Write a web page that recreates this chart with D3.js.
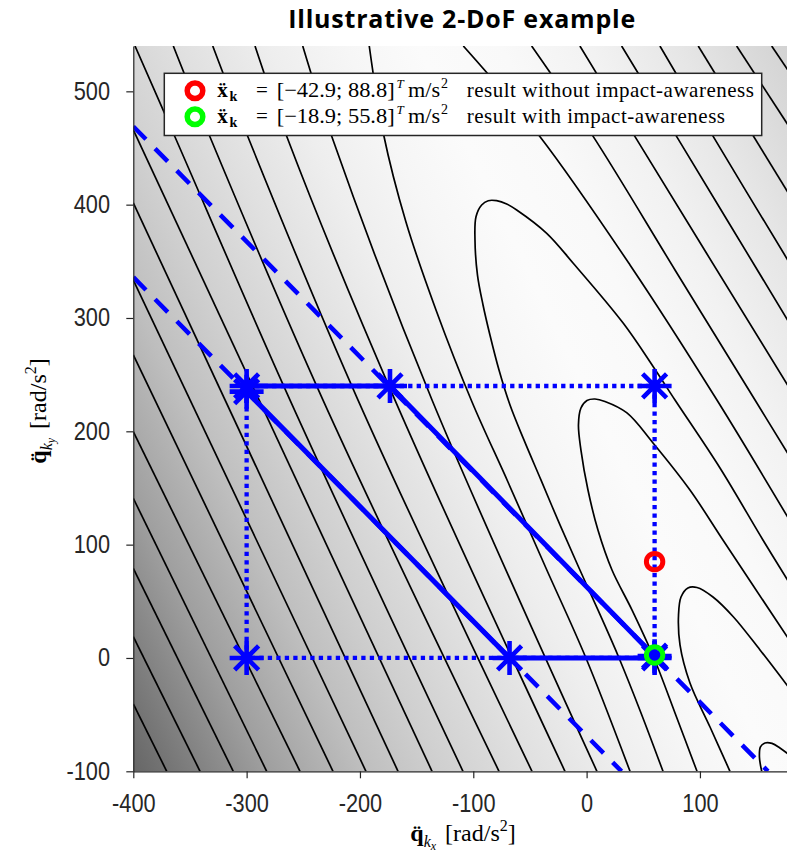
<!DOCTYPE html>
<html>
<head>
<meta charset="utf-8">
<script src="https://cdn.jsdelivr.net/npm/d3@7"></script>
<style>
  body { margin: 0; background: #fff; }
  svg { display: block; }
</style>
</head>
<body>
<div id="chart"></div>
<script>
// ticks
var xTicks = [-400, -300, -200, -100, 0, 100];
var yTicks = [-100, 0, 100, 200, 300, 400, 500];

// box constraint
var boxX = [-300, 60];
var boxY = [0, 240];

// the two parallel constraint lines (dashed)
var upperLine = [[-400, 469], [160, -100]];
var lowerLine = [[-400, 336], [30.8, -100]];

// feasible set (solid)
var feasible = [[-300, 240], [-173.5, 240], [60, 1.6], [60, 0], [-68, 0], [-300, 235], [-300, 240]];

// vertices drawn with '*'
var vertices = [[-300, 0], [-300, 235], [-300, 240], [-173.5, 240], [60, 240], [-68, 0], [60, 0], [60, 1.6]];

// results
var resultWithout = [60, 85];
var resultWith = [60, 2.6];

var legendColors = ["#ff0000", "#00ff00"];
var legendVectors = ["[\u221242.9; 88.8]", "[\u221218.9; 55.8]"];
var legendLabels = ["result without impact-awareness", "result with impact-awareness"];

// contour lines of the cost (left side, roughly straight)
var leftLines = [
  [[-400, -40.6], [-370.5, -100]],
  [[-400, 18.8], [-341.1, -100]],
  [[-400, 79.1], [-311.8, -100]],
  [[-400, 140.9], [-282.3, -100]],
  [[-400, 199.7], [-252.9, -100]],
  [[-400, 267.4], [-223.8, -100]],
  [[-400, 333.5], [-194.7, -100]],
  [[-400, 401.5], [-166.4, -100]],
  [[-400, 465.9], [-136.4, -100]],
  [[-398.5, 540], [-363.2, 459.7], [-261.7, 227.6], [-109.1, -100]],
  [[-364.7, 540], [-332.3, 459.7], [-232.6, 227.6], [-77.3, -100]],
  [[-329.9, 540], [-298.8, 459.7], [-201.7, 227.6], [-48.2, -100]],
  [[-292.6, 540], [-264.4, 459.7], [-169.1, 227.6], [-19.1, -100]],
  [[-250.5, 540], [-224.7, 459.7], [-136.4, 227.6], [9.1, -100]],
  [[-191.8, 540], [-179.4, 463], [-159.4, 384.7], [-132.9, 307.1], [-101.1, 225.9], [-69.4, 155.3], [-35.9, 79.4], [-0.6, 0], [38.3, -100]]
];

// U-shaped contours in the valley
var valleyLines = [
  [[67.4, -100], [48, -48.5], [28.6, 0], [10, 42.4], [-6.7, 79.4], [-23.5, 117.4], [-40.3, 157.1], [-55.3, 192.4],
   [-67.6, 223.2], [-77.3, 254.1], [-85.3, 285], [-91.4, 311.5], [-96.3, 337.9], [-98.5, 368.8], [-97.6, 389.4],
   [-92.6, 399.7], [-86.8, 403.5], [-79.4, 403.5], [-70.5, 400.6], [-61.7, 395.3], [-35.2, 374.7], [-11.8, 348.3],
   [32.4, 295.3], [58.8, 257], [78, 227.6], [117.7, 167.6], [155.6, 104.1], [180, 64.4]],
  [[97.4, -100], [78, -48.5], [59.4, 0], [40, 42.4], [22.4, 77.6], [10, 112.9], [1.2, 148.2], [-5, 183.5],
   [-7.2, 205.6], [-5, 220.6], [0.3, 227.2], [7.4, 228.5], [16.2, 226.3], [35.6, 216.2], [58.6, 189.7],
   [91.2, 148.2], [120.3, 104.1], [180, 14.1]],
  [[126.5, -100], [108.9, -60.9], [91.2, -22.1], [82.4, 11.5], [81.1, 37.9], [83.3, 53.8], [89.4, 61.8],
   [97.4, 62.2], [111.5, 53.8], [129.4, 36.4], [153, 7.1], [180, -28.2]],
  [[154.5, -100], [152.5, -87.4], [153.4, -78.5], [157.4, -75], [163.6, -75.4], [170.6, -79.4], [180, -86.5]]
];

// right-hand branches
var rightLines = [
  [[-108.8, 540], [-41.1, 460], [38.3, 346.8], [115, 227.6], [180, 120]],
  [[-48.5, 540], [5.9, 460], [78, 342.4], [148.6, 227.6], [180, 176.5]],
  [[-5.9, 540], [42.7, 460], [180, 236.5]],
  [[30.9, 540], [79.5, 460], [180, 293.8]],
  [[64.7, 540], [111.8, 460], [180, 347]],
  [[98.5, 540], [180, 407]],
  [[132.4, 540], [180, 466.8]],
  [[163.3, 540], [180, 515.3]]
];

var width = 787;
var height = 852;
var blue = "#0000ff";
var axisColor = "#262626";

/* Scale */
var xScale = d3.scaleLinear()
  .domain([-400, 180])
  .range([133.3, 790.6]);

var yScale = d3.scaleLinear()
  .domain([-100, 540])
  .range([771.3, 46]);

/* Add SVG */
var svg = d3.select("#chart").append("svg")
  .attr("width", width)
  .attr("height", height);

var defs = svg.append("defs");

defs.append("clipPath")
  .attr("id", "plot-clip")
  .append("rect")
  .attr("x", xScale(-400))
  .attr("y", yScale(540))
  .attr("width", xScale(180) - xScale(-400))
  .attr("height", yScale(-100) - yScale(540));

// grey shading across the valley (offset, grey level)
var shade = defs.append("linearGradient")
  .attr("id", "shade")
  .attr("gradientUnits", "userSpaceOnUse")
  .attr("x1", -196.9).attr("y1", 96.1)
  .attr("x2", 620.3).attr("y2", -302.9);

[[0, 102], [0.035, 116], [0.131, 158], [0.228, 190], [0.307, 208], [0.395, 224], [0.483, 238],
 [0.56, 246], [0.632, 251], [0.714, 249], [0.802, 242], [0.89, 230], [1, 210]]
  .forEach(function(s) {
    shade.append("stop")
      .attr("offset", s[0])
      .attr("stop-color", d3.rgb(s[1], s[1], s[1]));
  });

svg.append("rect")
  .attr("x", xScale(-400))
  .attr("y", yScale(540))
  .attr("width", xScale(180) - xScale(-400))
  .attr("height", yScale(-100) - yScale(540))
  .attr("fill", "url(#shade)");

/* Contours */
var smooth = d3.line()
  .x(d => xScale(d[0]))
  .y(d => yScale(d[1]))
  .curve(d3.curveCatmullRom.alpha(0.5));

var straight = d3.line()
  .x(d => xScale(d[0]))
  .y(d => yScale(d[1]));

var plot = svg.append("g")
  .attr("clip-path", "url(#plot-clip)");

plot.selectAll(".contour")
  .data(leftLines.concat(valleyLines, rightLines))
  .enter()
  .append("path")
  .attr("class", "contour")
  .attr("d", smooth)
  .attr("fill", "none")
  .attr("stroke", "#000")
  .attr("stroke-width", 1.7);

/* Constraints */
plot.selectAll(".bound")
  .data([upperLine, lowerLine])
  .enter()
  .append("path")
  .attr("class", "bound")
  .attr("d", straight)
  .attr("fill", "none")
  .attr("stroke", blue)
  .attr("stroke-width", 4.5)
  .attr("stroke-dasharray", "18,13");

var box = [[boxX[0], boxY[0]], [boxX[0], boxY[1]], [boxX[1], boxY[1]], [boxX[1], boxY[0]], [boxX[0], boxY[0]]];

plot.append("path")
  .attr("d", straight(box))
  .attr("fill", "none")
  .attr("stroke", blue)
  .attr("stroke-width", 4.3)
  .attr("stroke-dasharray", "4.3,4.2");

plot.append("path")
  .attr("d", straight(feasible))
  .attr("fill", "none")
  .attr("stroke", blue)
  .attr("stroke-width", 5)
  .attr("stroke-linejoin", "round");

plot.selectAll(".vertex")
  .data(vertices)
  .enter()
  .append("path")
  .attr("class", "vertex")
  .attr("transform", d => `translate(${xScale(d[0])},${yScale(d[1])})`)
  .attr("d", "M-17,0H17M0,-17V17M-12,-12L12,12M-12,12L12,-12")
  .attr("stroke", blue)
  .attr("stroke-width", 4.6)
  .attr("fill", "none");

plot.selectAll(".result")
  .data([[resultWithout, legendColors[0]], [resultWith, legendColors[1]]])
  .enter()
  .append("circle")
  .attr("class", "result")
  .attr("cx", d => xScale(d[0][0]))
  .attr("cy", d => yScale(d[0][1]))
  .attr("r", 8.2)
  .attr("fill", "none")
  .attr("stroke", d => d[1])
  .attr("stroke-width", 5);

/* Axes */
var xAxis = d3.axisBottom(xScale)
  .tickValues(xTicks)
  .tickSize(7)
  .tickSizeOuter(0)
  .tickPadding(16)
  .tickFormat(d => String(d));

var yAxis = d3.axisLeft(yScale)
  .tickValues(yTicks)
  .tickSize(7)
  .tickSizeOuter(0)
  .tickFormat(d => String(d));

var gx = svg.append("g")
  .attr("transform", `translate(0, ${yScale(-100)})`)
  .call(xAxis);

var gy = svg.append("g")
  .attr("transform", `translate(${xScale(-400)}, 0)`)
  .call(yAxis);

[gx, gy].forEach(function(g) {
  g.select(".domain").attr("stroke", axisColor).attr("stroke-width", 1.2);
  g.selectAll(".tick line").attr("stroke", axisColor).attr("stroke-width", 1.2);
  g.selectAll(".tick text")
    .attr("fill", axisColor)
    .attr("font-family", "'Liberation Sans', Arial, sans-serif")
    .attr("font-size", 25)
    .attr("transform", "scale(0.87,1)");
});
gy.selectAll(".tick text").attr("x", -26.8);

/* Axis labels */
var serif = "'Liberation Serif', 'Times New Roman', serif";

function axisLabel(sub, x, y, rotate) {
  var t = svg.append("text")
    .attr("transform", `translate(${x},${y})` + (rotate ? " rotate(-90)" : ""))
    .attr("text-anchor", "middle")
    .attr("font-family", serif)
    .attr("font-size", 24)
    .attr("fill", "#000");
  t.append("tspan").attr("font-weight", "bold").text("q\u0308");
  t.append("tspan").attr("font-style", "italic").attr("font-size", 16).attr("dy", 6).text("k");
  t.append("tspan").attr("font-style", "italic").attr("font-size", 12).attr("dy", 3).text(sub);
  t.append("tspan").attr("dy", -9).attr("dx", 9).text("[rad/s");
  t.append("tspan").attr("font-size", 16).attr("dy", -10).text("2");
  t.append("tspan").attr("dy", 10).text("]");
}
axisLabel("x", 463, 841, false);
axisLabel("y", 46, 411, true);

/* Title */
svg.append("text")
  .attr("x", 461.7)
  .attr("y", 28.3)
  .attr("text-anchor", "middle")
  .attr("font-family", "'Open Sans', sans-serif")
  .attr("font-weight", 700)
  .attr("font-size", 25)
  .attr("textLength", 347)
  .attr("lengthAdjust", "spacing")
  .text("Illustrative 2-DoF example");

/* Legend */
var legend = svg.append("g").attr("class", "legend");

legend.append("rect")
  .attr("x", 164.3)
  .attr("y", 73.3)
  .attr("width", 597.4)
  .attr("height", 62.2)
  .attr("fill", "#fff")
  .attr("stroke", axisColor)
  .attr("stroke-width", 1.5);

var rows = legend.selectAll(".legend-row")
  .data(legendLabels)
  .enter()
  .append("g")
  .attr("class", "legend-row")
  .attr("transform", (d, i) => `translate(0, ${90.7 + i * 26})`);

rows.append("circle")
  .attr("cx", 195)
  .attr("cy", 0)
  .attr("r", 7.8)
  .attr("fill", "none")
  .attr("stroke", (d, i) => legendColors[i])
  .attr("stroke-width", 5.5);

function rowText(sel, x, y, size) {
  return sel.append("text")
    .attr("x", x)
    .attr("y", y)
    .attr("font-family", serif)
    .attr("font-size", size)
    .attr("fill", "#000");
}

rowText(rows, 217.3, 6, 21).attr("font-weight", "bold").text("x\u0308");
rowText(rows, 229.5, 10, 14).attr("font-weight", "bold").text("k");
rowText(rows, 256, 6, 21).text("=");
rowText(rows, 276.7, 6, 21)
  .attr("textLength", 118)
  .attr("lengthAdjust", "spacingAndGlyphs")
  .text((d, i) => legendVectors[i]);
rowText(rows, 396.5, -3, 13).attr("font-style", "italic").text("T");
rowText(rows, 408, 6, 21)
  .attr("textLength", 32)
  .attr("lengthAdjust", "spacingAndGlyphs")
  .text("m/s");
rowText(rows, 441, -3, 14).text("2");
rowText(rows, 466.7, 6, 21)
  .attr("textLength", (d, i) => i === 0 ? 287.3 : 258.3)
  .attr("lengthAdjust", "spacing")
  .text(d => d);
</script>
</body>
</html>
